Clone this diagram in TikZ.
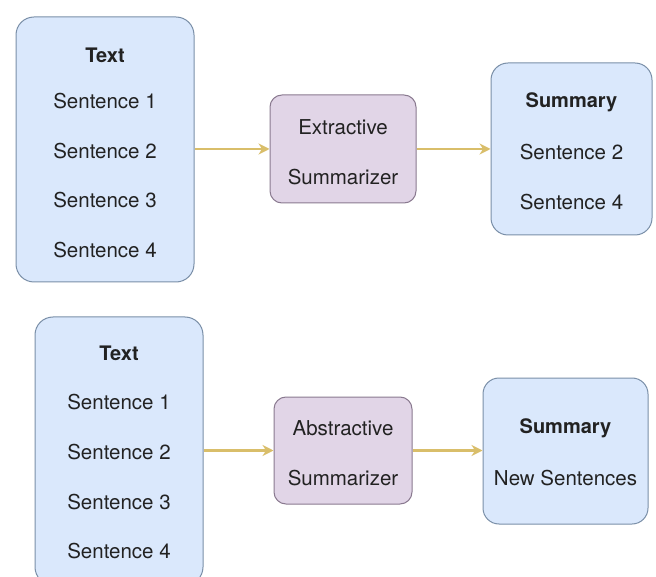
\documentclass[tikz,border=0pt]{standalone}
\usepackage{fontspec}
\setmainfont{TeX Gyre Heros}
\usetikzlibrary{arrows.meta}
\definecolor{bluefill}{HTML}{DAE8FC}
\definecolor{bluedraw}{HTML}{7A8FA8}
\definecolor{purplefill}{HTML}{E1D5E7}
\definecolor{purpledraw}{HTML}{8A7A90}
\definecolor{arrowcol}{HTML}{D9BE6A}
\definecolor{txt}{HTML}{222222}
\tikzset{
  bluebox/.style={draw=bluedraw, fill=bluefill, line width=1pt},
  purplebox/.style={draw=purpledraw, fill=purplefill, line width=1pt},
  lbl/.style={font=\fontsize{20.5}{23}\selectfont, text=txt, anchor=center, inner sep=0pt},
  blbl/.style={lbl, font=\fontsize{20}{23}\selectfont\bfseries},
  flow/.style={draw=arrowcol, line width=2.2pt, -{Stealth[length=11pt,width=11pt]}}
}
\begin{document}
\begin{tikzpicture}[x=1pt,y=-1pt]
\useasboundingbox (0,0) rectangle (656,577);
\fill[white] (0,0) rectangle (656,577);
\clip (0,0) rectangle (656,577);
% top row
\node[bluebox, rounded corners=18pt, minimum width=178pt, minimum height=265pt, inner sep=0pt] (t1) at (105,149.5) {};
\node[blbl] (t1h) at (105,55) {Text};
\node[lbl] (t1a) at (105,101) {Sentence 1};
\node[lbl] (t1b) at (105,151) {Sentence 2};
\node[lbl] (t1c) at (105,200) {Sentence 3};
\node[lbl] (t1d) at (105,250) {Sentence 4};
\node[purplebox, rounded corners=12pt, minimum width=146pt, minimum height=108pt, inner sep=0pt] (ex) at (343,149) {};
\node[lbl] (exa) at (343,127) {Extractive};
\node[lbl] (exb) at (343,177) {Summarizer};
\node[bluebox, rounded corners=17pt, minimum width=161pt, minimum height=172pt, inner sep=0pt] (s1) at (571.5,149) {};
\node[blbl] (s1h) at (571.5,102) {Summary};
\node[lbl] (s1a) at (571.5,152) {Sentence 2};
\node[lbl] (s1b) at (571.5,202) {Sentence 4};
\draw[flow] (t1.east |- ex.west) -- (ex.west);
\draw[flow] (ex.east) -- (s1.west |- ex.east);
% bottom row
\node[bluebox, rounded corners=18pt, minimum width=168pt, minimum height=268pt, inner sep=0pt] (t2) at (119,451) {};
\node[blbl] (t2h) at (119,353) {Text};
\node[lbl] (t2a) at (119,402) {Sentence 1};
\node[lbl] (t2b) at (119,452) {Sentence 2};
\node[lbl] (t2c) at (119,502) {Sentence 3};
\node[lbl] (t2d) at (119,551) {Sentence 4};
\node[purplebox, rounded corners=12pt, minimum width=138pt, minimum height=107pt, inner sep=0pt] (ab) at (343,450.5) {};
\node[lbl] (aba) at (343,428) {Abstractive};
\node[lbl] (abb) at (343,478) {Summarizer};
\node[bluebox, rounded corners=16pt, minimum width=165pt, minimum height=146pt, inner sep=0pt] (s2) at (565.5,451) {};
\node[blbl] (s2h) at (565.5,428) {Summary};
\node[lbl] (s2a) at (565.5,478) {New Sentences};
\draw[flow] (t2.east |- ab.west) -- (ab.west);
\draw[flow] (ab.east) -- (s2.west |- ab.east);
\end{tikzpicture}
\end{document}
